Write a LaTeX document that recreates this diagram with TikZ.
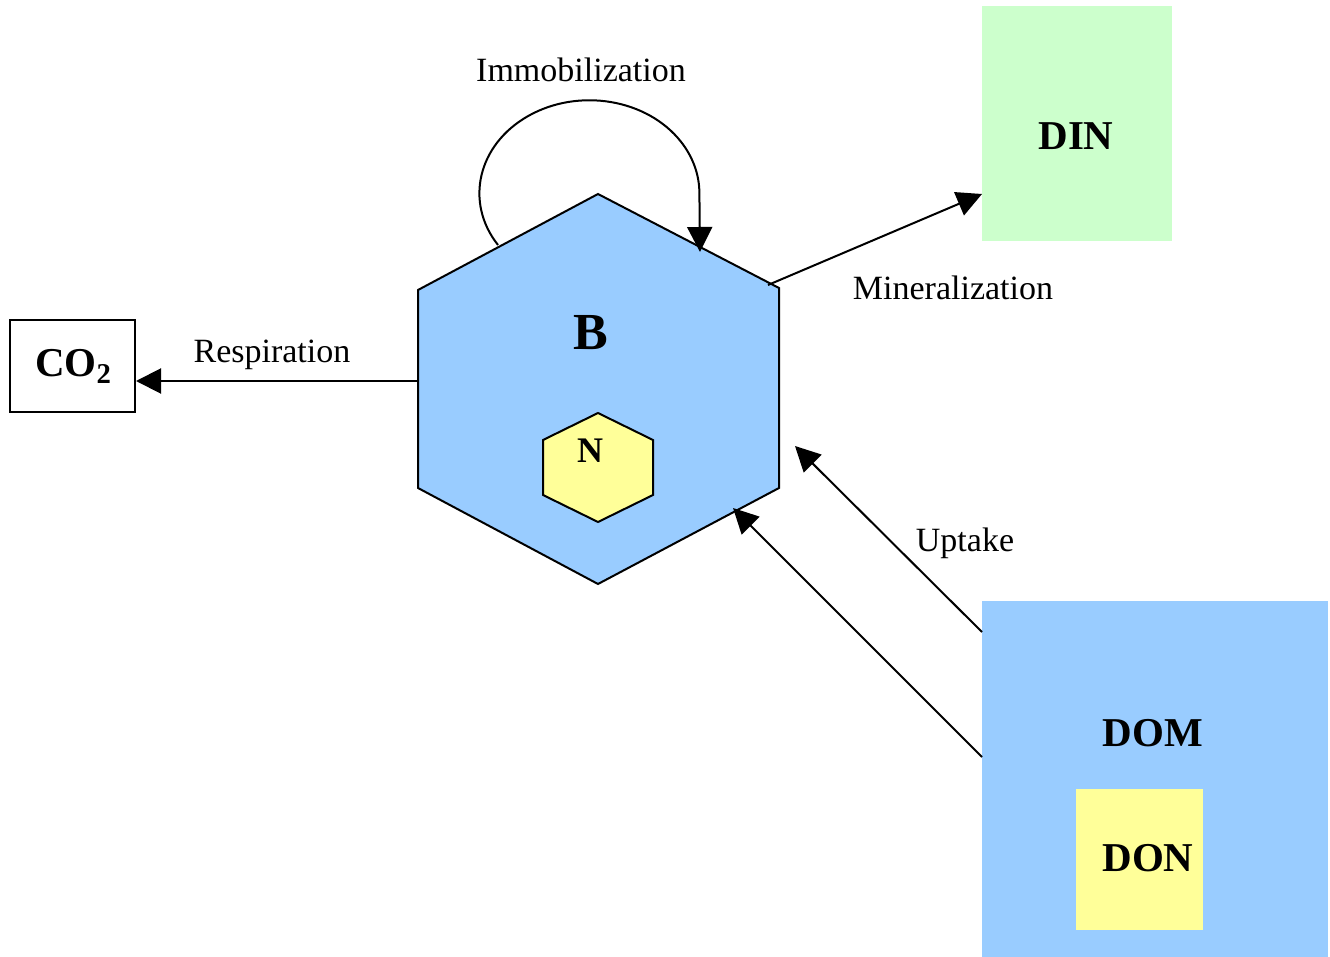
\documentclass[tikz,border=0pt]{standalone}
\usepackage{fontspec}
\setmainfont{Liberation Serif}
\usetikzlibrary{arrows.meta}
\definecolor{bblue}{HTML}{99CCFF}
\definecolor{bgreen}{HTML}{CCFFCC}
\definecolor{byellow}{HTML}{FFFF99}
\tikzset{
  conn/.style={line width=1pt,-{Triangle[length=12.5pt,width=12.5pt]}},
  lbl/.style={anchor=base,inner sep=0pt,font=\fontsize{17}{20}\selectfont},
  big/.style={anchor=base,inner sep=0pt,font=\fontsize{20.5}{24}\selectfont\bfseries},
  hexline/.style={line width=1pt,line join=miter}
}
\begin{document}
\begin{tikzpicture}[x=0.5pt,y=-0.5pt]
\useasboundingbox (0,0) rectangle (1330,957);
% boxes
\fill[bgreen] (982,6) rectangle (1172,241);
\node[big] (din) at (1076,150) {DIN};
\fill[bblue] (982,601) rectangle (1328,957);
\fill[byellow] (1076,789) rectangle (1203,930);
\node[big] (dom) at (1153,746) {DOM};
\node[big] (don) at (1148,871) {DON};
\draw[line width=1pt] (10,320) rectangle (135,412);
\node[big] (co2) at (73.5,377) {CO\textsubscript{2}};
% hexagon B
\draw[hexline,fill=bblue] (598,194) -- (779,288) -- (779,488) -- (598,584) -- (418,488) -- (418,290) -- cycle;
\node[anchor=base,inner sep=0pt,font=\fontsize{26}{30}\selectfont\bfseries] (b) at (590.5,350) {B};
\draw[hexline,fill=byellow] (598,413) -- (653,440) -- (653,495) -- (598,522) -- (543,495) -- (543,440) -- cycle;
\node[anchor=base,inner sep=0pt,font=\fontsize{18}{22}\selectfont\bfseries] (n) at (590,463) {N};
% connector coordinates
\coordinate (bresp) at (418,381);
\coordinate (co2e) at (136,381);
\coordinate (bmin) at (768,285);
\coordinate (dinw) at (982,194);
\coordinate (dom1) at (982,632);
\coordinate (bup1) at (795,446);
\coordinate (dom2) at (982,757);
\coordinate (bup2) at (733,508);
\coordinate (imms) at (498,245);
\coordinate (imme) at (700,252);
% connectors
\draw[conn] (bresp) -- (co2e);
\draw[conn] (bmin) -- (dinw);
\draw[conn] (dom1) -- (bup1);
\draw[conn] (dom2) -- (bup2);
\draw[conn] (imms) arc[start angle=146.2,end angle=360,x radius=110,y radius=93] -- (imme);
% labels
\node[lbl] (limm) at (581,82) {Immobilization};
\node[lbl] (lresp) at (272,363) {Respiration};
\node[lbl] (lmin) at (953,300) {Mineralization};
\node[lbl] (lup) at (965,552) {Uptake};
\end{tikzpicture}
\end{document}
